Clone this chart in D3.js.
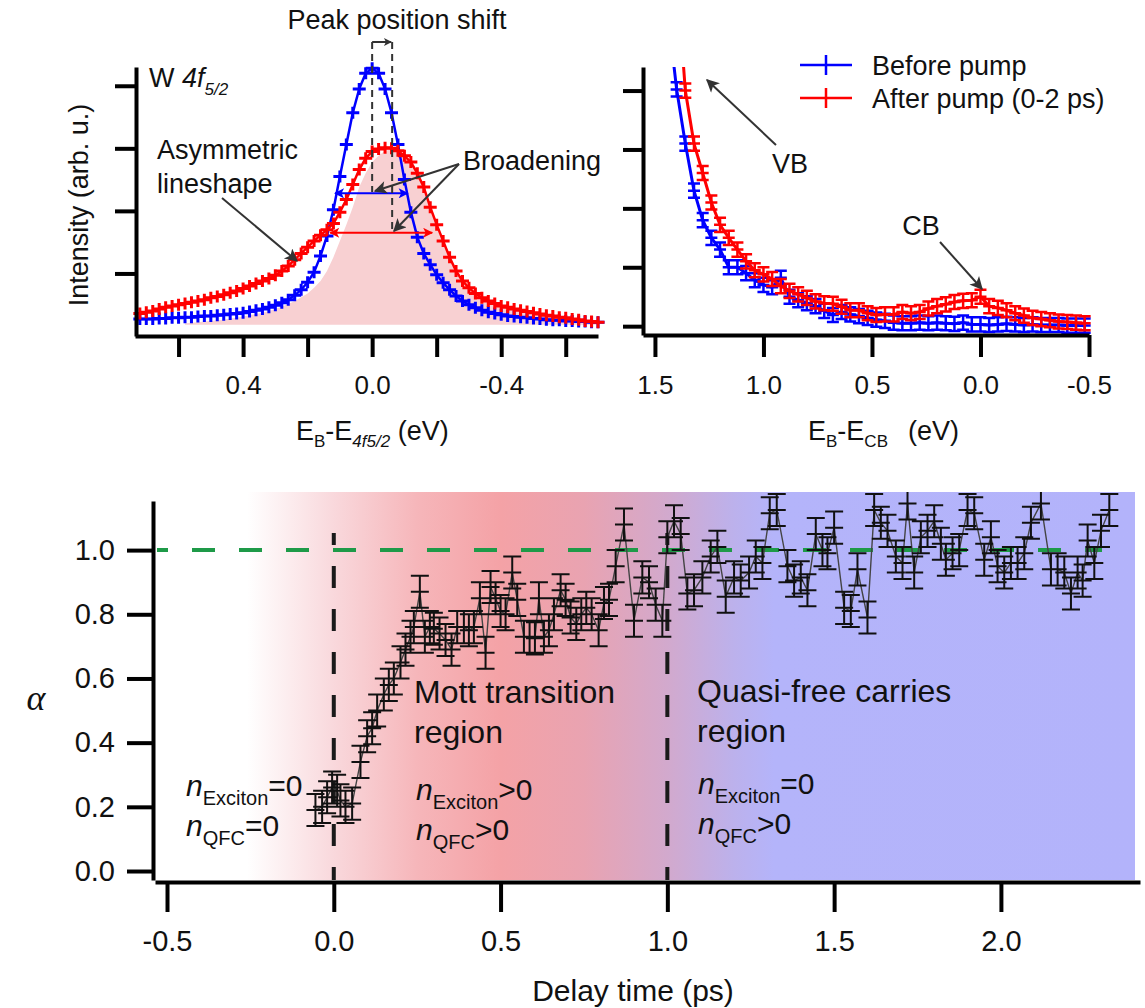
<!DOCTYPE html>
<html>
<head>
<meta charset="utf-8">
<script src="https://cdn.jsdelivr.net/npm/d3@7"></script>
<style>
body { margin: 0; background: #fff; }
text { font-family: "Liberation Sans", Arial, Helvetica, sans-serif; fill: #111; }
</style>
</head>
<body>
<script>
// ---- W 4f5/2 core level (top left) ----
var coreEnergy = [0.72,0.70,0.68,0.66,0.64,0.62,0.60,0.58,0.56,0.54,0.52,0.50,0.48,0.46,0.44,0.42,0.40,0.38,0.36,0.34,0.32,0.30,0.28,0.26,0.24,0.22,0.20,0.18,0.16,0.14,0.12,0.10,0.08,0.06,0.04,0.02,0.00,
  -0.02,-0.04,-0.06,-0.08,-0.10,-0.12,-0.14,-0.16,-0.18,-0.20,-0.22,-0.24,-0.26,-0.28,-0.30,-0.32,-0.34,-0.36,-0.38,-0.40,-0.42,-0.44,-0.46,-0.48,-0.50,-0.52,-0.54,-0.56,-0.58,-0.60,-0.62,-0.64,-0.66,-0.68,-0.70];
var coreBefore = [0.27,0.27,0.27,0.28,0.28,0.29,0.29,0.30,0.30,0.31,0.32,0.32,0.33,0.34,0.35,0.36,0.37,0.39,0.41,0.43,0.46,0.49,0.53,0.58,0.65,0.74,0.86,1.02,1.28,1.60,2.02,2.55,3.06,3.57,3.95,4.20,4.28,
  4.20,3.95,3.57,3.06,2.50,1.98,1.58,1.32,1.14,0.98,0.85,0.74,0.64,0.56,0.50,0.45,0.41,0.38,0.36,0.34,0.32,0.31,0.30,0.29,0.28,0.27,0.26,0.25,0.25,0.24,0.24,0.23,0.23,0.22,0.22];
var coreAfter = [0.36,0.38,0.40,0.43,0.46,0.48,0.50,0.52,0.54,0.56,0.58,0.61,0.63,0.66,0.69,0.72,0.76,0.80,0.84,0.88,0.92,0.97,1.04,1.12,1.22,1.32,1.42,1.52,1.61,1.70,1.80,1.98,2.18,2.42,2.66,2.84,2.95,
  2.99,3.01,3.00,2.96,2.88,2.78,2.60,2.38,2.06,1.78,1.52,1.26,1.04,0.88,0.77,0.68,0.61,0.56,0.52,0.48,0.46,0.43,0.41,0.39,0.37,0.35,0.33,0.32,0.30,0.29,0.27,0.26,0.24,0.23,0.22];
var coreFit = [null,null,null,null,null,null,null,0.20,0.21,0.22,0.23,0.24,0.25,0.26,0.28,0.29,0.31,0.33,0.35,0.37,0.40,0.43,0.47,0.51,0.56,0.62,0.68,0.77,0.88,1.04,1.26,1.52,1.78,2.06,2.38,2.60,2.78,
  2.88,2.96,2.98,2.94,2.86,2.76,2.58,2.36,2.04,1.76,1.50,1.24,1.02,0.86,0.75,0.66,0.59,0.54,0.50,0.46,0.44,0.41,0.39,0.37,0.35,0.33,0.31,0.30,0.28,0.27,0.25,0.24,0.23,0.22,0.21];
var fitBase = 0.18;
var coreTicks = [0.6,0.4,0.2,0,-0.2,-0.4,-0.6];
var coreLabels = [0.4,0,-0.4];

// ---- valence / conduction band (top right) ----
var vbEnergy = [1.44,1.40,1.36,1.32,1.28,1.24,1.20,1.16,1.12,1.08,1.04,1.00,0.96,0.92,0.88,0.84,0.80,0.76,0.72,0.68,0.64,0.60,0.56,0.52,0.48,0.44,0.40,0.36,0.32,0.28,0.24,0.20,0.16,0.12,0.08,0.04,0.00,
  -0.04,-0.08,-0.12,-0.16,-0.20,-0.24,-0.28,-0.32,-0.36,-0.40,-0.44,-0.48];
var vbBefore = [5.3,4.02,3.1,2.3,1.8,1.5,1.3,1.0,1.0,0.9,0.78,0.7,0.66,0.82,0.5,0.44,0.39,0.34,0.26,0.19,0.24,0.2,0.17,0.14,0.11,0.09,0.06,0.05,0.05,0.06,0.05,0.06,0.05,0.04,0.06,0.03,0.03,
  0.02,0.03,0.04,0.03,0.02,0.03,0.02,0.02,0.02,0.01,0.01,0.01];
var vbAfter = [8.0,6.0,4.0,3.1,2.6,2.1,1.72,1.5,1.3,1.1,0.95,0.88,0.8,0.68,0.6,0.54,0.48,0.42,0.39,0.38,0.33,0.27,0.27,0.22,0.19,0.2,0.2,0.24,0.22,0.24,0.3,0.34,0.37,0.41,0.43,0.44,0.5,
  0.34,0.31,0.27,0.22,0.18,0.14,0.12,0.10,0.08,0.07,0.06,0.05];
var vbErr = 0.12;
var vbTicks = [1.5,1.0,0.5,0.0,-0.5];

// ---- alpha vs delay (bottom) ----
var delay = [-0.055,-0.035,-0.02,-0.005,0.01,0.02,0.035,0.055,0.08,0.10,0.115,0.13,0.15,0.165,0.18,0.20,0.215,0.23,0.24,0.258,0.273,0.288,0.30,0.317,0.335,0.353,0.37,0.39,0.405,0.42,
  0.438,0.455,0.47,0.485,0.50,0.515,0.535,0.55,0.57,0.587,0.603,0.615,0.63,0.645,0.66,0.68,0.695,0.71,0.727,0.742,0.757,0.773,0.794,0.81,0.825,0.845,0.87,0.90,0.925,0.945,0.965,0.985,
  1.00,1.02,1.04,1.06,1.08,1.105,1.13,1.15,1.175,1.20,1.22,1.245,1.265,1.285,1.307,1.328,1.36,1.38,1.40,1.42,1.445,1.465,1.48,1.50,1.53,1.55,1.57,1.60,1.62,1.64,1.66,1.685,1.705,1.72,
  1.74,1.76,1.78,1.80,1.82,1.835,1.855,1.875,1.90,1.92,1.95,1.97,1.99,2.01,2.03,2.05,2.07,2.09,2.12,2.15,2.17,2.19,2.21,2.23,2.245,2.26,2.28,2.30,2.325];
var alpha = [0.19,0.20,0.23,0.26,0.25,0.22,0.20,0.21,0.34,0.42,0.445,0.50,0.55,0.58,0.60,0.65,0.69,0.73,0.76,0.87,0.73,0.76,0.755,0.74,0.72,0.69,0.76,0.76,0.75,0.76,
  0.85,0.68,0.885,0.85,0.81,0.80,0.93,0.845,0.73,0.73,0.725,0.85,0.73,0.75,0.80,0.875,0.845,0.79,0.77,0.80,0.82,0.80,0.75,0.835,0.845,0.95,1.08,0.78,0.915,0.90,0.83,0.78,
  1.04,1.09,1.05,0.865,0.875,0.915,0.98,1.01,0.855,0.915,0.905,0.93,0.98,0.96,1.115,1.125,0.95,0.905,0.915,0.875,1.05,1.0,0.99,1.07,0.82,0.81,0.94,0.79,1.125,1.085,1.06,0.98,0.96,1.145,
  0.93,1.04,1.06,1.09,1.02,0.97,0.99,1.0,1.125,1.115,0.97,1.04,0.95,0.93,0.96,0.96,0.99,1.085,1.145,0.94,0.94,0.93,0.865,0.93,0.905,1.03,0.96,1.06,1.125];
var alphaErr = 0.05;
var delayTicks = [-0.5,0.0,0.5,1.0,1.5,2.0];
var alphaTicks = [0.0,0.2,0.4,0.6,0.8,1.0];
var regionBounds = [0.0, 1.0];

var BLUE = "#0000ff", RED = "#ff0000", INK = "#333";
var fmt = function(d){ return d.toFixed(1); };

var svg = d3.select("body").append("svg").attr("width",1145).attr("height",1008);
var defs = svg.append("defs");

function arrowMarker(id, color, w, h) {
  defs.append("marker").attr("id",id).attr("viewBox","0 0 10 10").attr("refX",9).attr("refY",5)
    .attr("markerUnits","userSpaceOnUse").attr("markerWidth",w).attr("markerHeight",h)
    .attr("orient","auto-start-reverse")
    .append("path").attr("d","M0,0L10,5L0,10L2.5,5Z").attr("fill",color);
}
arrowMarker("ahK", INK, 17, 13);
arrowMarker("ahB", BLUE, 12, 10);
arrowMarker("ahR", RED, 12, 10);
arrowMarker("ahS", INK, 9, 8);

function styleAxis(g, w) {
  g.selectAll("path.domain").attr("stroke","#000").attr("stroke-width",w);
  g.selectAll(".tick line").attr("stroke","#000").attr("stroke-width",w);
  g.selectAll(".tick text").attr("fill","#111").attr("font-family",null);
}

// ================= top left =================
var xL = d3.scaleLinear().domain([0.735,-0.70]).range([135,598]);
var yL = d3.scaleLinear().domain([0,4.3]).range([336,67]);
var gL = svg.append("g");

var fitPts = coreEnergy.map(function(e,i){ return [e, coreFit[i]]; });
gL.append("path").datum(fitPts)
  .attr("d", d3.area().defined(function(d){return d[1]!=null;})
     .x(function(d){return xL(d[0]);}).y0(yL(fitBase)).y1(function(d){return yL(d[1]);}))
  .attr("fill","#f8d0d2");

function plusSeries(g, xs, ys, xsc, ysc, color) {
  var pts = xs.map(function(e,i){ return [xsc(e), ysc(ys[i])]; });
  g.append("path").datum(pts).attr("d", d3.line()).attr("fill","none").attr("stroke",color).attr("stroke-width",2.5);
  g.append("path")
    .attr("d", pts.map(function(p){ return "M"+(p[0]-6.5)+","+p[1]+"h13M"+p[0]+","+(p[1]-6)+"v12"; }).join(""))
    .attr("stroke",color).attr("stroke-width",3).attr("fill","none");
}
plusSeries(gL, coreEnergy, coreBefore, xL, yL, BLUE);
plusSeries(gL, coreEnergy, coreAfter, xL, yL, RED);

gL.append("g").attr("transform","translate(0,336)")
  .call(d3.axisBottom(xL).tickValues(coreTicks).tickSize(21).tickSizeOuter(0).tickPadding(19)
    .tickFormat(function(d){ return coreLabels.indexOf(d) >= 0 ? fmt(d) : ""; }))
  .call(function(g){ styleAxis(g,4); g.selectAll("text").attr("font-size",26); });
gL.append("g").attr("transform","translate(136,0)")
  .call(d3.axisLeft(yL).tickValues([1,2,3,4]).tickSize(21).tickSizeOuter(0).tickFormat(""))
  .call(function(g){ styleAxis(g,4); });

// broadening arrows
gL.append("line").attr("x1",xL(0.115)).attr("x2",xL(-0.11)).attr("y1",yL(2.28)).attr("y2",yL(2.28))
  .attr("stroke",BLUE).attr("stroke-width",2).attr("marker-start","url(#ahB)").attr("marker-end","url(#ahB)");
gL.append("line").attr("x1",xL(0.13)).attr("x2",xL(-0.186)).attr("y1",yL(1.65)).attr("y2",yL(1.65))
  .attr("stroke",RED).attr("stroke-width",2).attr("marker-start","url(#ahR)").attr("marker-end","url(#ahR)");

// peak position shift bracket
gL.append("line").attr("x1",xL(0)).attr("x2",xL(0)).attr("y1",42).attr("y2",192)
  .attr("stroke",INK).attr("stroke-width",2).attr("stroke-dasharray","7,5");
gL.append("line").attr("x1",xL(-0.062)).attr("x2",xL(-0.062)).attr("y1",42).attr("y2",232)
  .attr("stroke",INK).attr("stroke-width",2).attr("stroke-dasharray","7,5");
gL.append("line").attr("x1",xL(0)).attr("x2",xL(-0.062)-1).attr("y1",42).attr("y2",42)
  .attr("stroke",INK).attr("stroke-width",2).attr("marker-end","url(#ahS)");
svg.append("text").attr("x",397).attr("y",29).attr("text-anchor","middle").attr("font-size",27).text("Peak position shift");

var wl = svg.append("text").attr("x",149).attr("y",87).attr("font-size",27);
wl.append("tspan").text("W ");
wl.append("tspan").attr("font-style","italic").text("4f");
wl.append("tspan").attr("font-style","italic").attr("font-size",17).attr("dy",8).text("5/2");

svg.append("text").attr("x",157).attr("y",159).attr("font-size",27).text("Asymmetric");
svg.append("text").attr("x",157).attr("y",193).attr("font-size",27).text("lineshape");
svg.append("line").attr("x1",222).attr("y1",198).attr("x2",297).attr("y2",261)
  .attr("stroke",INK).attr("stroke-width",2).attr("marker-end","url(#ahK)");

svg.append("text").attr("x",463).attr("y",170).attr("font-size",27).text("Broadening");
svg.append("line").attr("x1",459).attr("y1",164).attr("x2",375).attr("y2",191)
  .attr("stroke",INK).attr("stroke-width",2).attr("marker-end","url(#ahK)");
svg.append("line").attr("x1",459).attr("y1",164).attr("x2",394).attr("y2",231)
  .attr("stroke",INK).attr("stroke-width",2).attr("marker-end","url(#ahK)");

svg.append("text").attr("transform","translate(88,205) rotate(-90)").attr("text-anchor","middle")
  .attr("font-size",27).text("Intensity (arb. u.)");
var xl1 = svg.append("text").attr("x",296).attr("y",440).attr("font-size",27);
xl1.append("tspan").text("E");
xl1.append("tspan").attr("font-size",17).attr("dy",7).text("B");
xl1.append("tspan").attr("dy",-7).text("-E");
xl1.append("tspan").attr("font-size",17).attr("dy",7).attr("font-style","italic").text("4f5/2");
xl1.append("tspan").attr("dy",-7).text(" (eV)");

// ================= top right =================
var xR = d3.scaleLinear().domain([1.555,-0.5]).range([643,1089]);
var yR = d3.scaleLinear().domain([-0.15,4.4]).range([335,67]);
defs.append("clipPath").attr("id","clipR").append("rect").attr("x",643).attr("y",67).attr("width",460).attr("height",280);
var gR = svg.append("g").attr("clip-path","url(#clipR)");

function errSeries(g, xs, ys, err, xsc, ysc, color, cw, sw, lw) {
  var pts = xs.map(function(e,i){ return [xsc(e), ysc(ys[i]), ysc(ys[i]+err), ysc(ys[i]-err)]; });
  g.append("path").datum(pts).attr("d", d3.line().x(function(p){return p[0];}).y(function(p){return p[1];}))
    .attr("fill","none").attr("stroke",color).attr("stroke-width",lw);
  g.append("path")
    .attr("d", pts.map(function(p){
      var h = cw/2;
      return "M"+p[0]+","+p[2]+"V"+p[3]+
             "M"+(p[0]-h)+","+p[2]+"h"+cw+
             "M"+(p[0]-h)+","+p[1]+"h"+cw+
             "M"+(p[0]-h)+","+p[3]+"h"+cw;
    }).join(""))
    .attr("stroke",color).attr("stroke-width",sw).attr("fill","none");
}
errSeries(gR, vbEnergy, vbBefore, vbErr, xR, yR, BLUE, 12, 2.5, 3);
errSeries(gR, vbEnergy, vbAfter, vbErr, xR, yR, RED, 12, 2.5, 3);

svg.append("g").attr("transform","translate(0,335)")
  .call(d3.axisBottom(xR).tickValues(vbTicks).tickSize(22).tickSizeOuter(0).tickPadding(19).tickFormat(fmt))
  .call(function(g){ styleAxis(g,4); g.selectAll("text").attr("font-size",26); });
svg.append("g").attr("transform","translate(643,0)")
  .call(d3.axisLeft(yR).tickValues([0,1,2,3,4]).tickSize(20).tickSizeOuter(0).tickFormat(""))
  .call(function(g){ styleAxis(g,4); });

// legend
[["Before pump", BLUE, 65], ["After pump (0-2 ps)", RED, 98]].forEach(function(l){
  svg.append("line").attr("x1",800).attr("x2",852).attr("y1",l[2]).attr("y2",l[2]).attr("stroke",l[1]).attr("stroke-width",2.5);
  svg.append("line").attr("x1",826).attr("x2",826).attr("y1",l[2]-10).attr("y2",l[2]+10).attr("stroke",l[1]).attr("stroke-width",2.5);
  svg.append("text").attr("x",872).attr("y",l[2]+10).attr("font-size",27).text(l[0]);
});

svg.append("text").attr("x",790).attr("y",173).attr("text-anchor","middle").attr("font-size",27).text("VB");
svg.append("line").attr("x1",776).attr("y1",145).attr("x2",707).attr("y2",80)
  .attr("stroke",INK).attr("stroke-width",2).attr("marker-end","url(#ahK)");
svg.append("text").attr("x",921).attr("y",235).attr("text-anchor","middle").attr("font-size",27).text("CB");
svg.append("line").attr("x1",940).attr("y1",242).attr("x2",982).attr("y2",289)
  .attr("stroke",INK).attr("stroke-width",2).attr("marker-end","url(#ahK)");

var xl2 = svg.append("text").attr("x",808).attr("y",440).attr("font-size",27);
xl2.append("tspan").text("E");
xl2.append("tspan").attr("font-size",17).attr("dy",7).text("B");
xl2.append("tspan").attr("dy",-7).text("-E");
xl2.append("tspan").attr("font-size",17).attr("dy",7).text("CB");
xl2.append("tspan").attr("dy",-7).attr("dx",20).text("(eV)");

// ================= bottom =================
var xB = d3.scaleLinear().domain([-0.536,2.417]).range([155,1140]);
var yB = d3.scaleLinear().domain([-0.028,1.153]).range([880,501]);

var grad = defs.append("linearGradient").attr("id","bgGrad").attr("gradientUnits","userSpaceOnUse")
  .attr("x1",155).attr("x2",1135).attr("y1",0).attr("y2",0);
[[-0.26,"#ffffff"],[0.0,"#f9d8dc"],[0.25,"#f6b6ba"],[0.5,"#f4a2a6"],[0.75,"#e9a3b1"],[1.0,"#d2a9cd"],[1.2,"#bcb1ec"],[1.32,"#b4b4fa"],[2.4,"#b3b3fb"]]
  .forEach(function(s){
    grad.append("stop").attr("offset", (xB(s[0])-155)/980).attr("stop-color", s[1]);
  });
svg.append("rect").attr("x",155).attr("y",492).attr("width",980).attr("height",388).attr("fill","url(#bgGrad)");

// reference alpha = 1
svg.append("line").attr("x1",157).attr("x2",1102).attr("y1",yB(1)).attr("y2",yB(1))
  .attr("stroke","#1e9a48").attr("stroke-width",4).attr("stroke-dasharray","23,24").attr("stroke-dashoffset",12);

// region boundaries
regionBounds.forEach(function(t){
  svg.append("line").attr("x1",xB(t)).attr("x2",xB(t)).attr("y1",533).attr("y2",880)
    .attr("stroke","#1a1a1a").attr("stroke-width",4).attr("stroke-dasharray","22,21").attr("stroke-dashoffset",10);
});

defs.append("clipPath").attr("id","clipB").append("rect").attr("x",155).attr("y",492).attr("width",985).attr("height",390);
var gB = svg.append("g").attr("clip-path","url(#clipB)");
errSeries(gB, delay, alpha, alphaErr, xB, yB, "#111", 18, 2, 1.4);
gB.select("path").attr("stroke","#444");

svg.append("g").attr("transform","translate(0,882)")
  .call(d3.axisBottom(xB).tickValues(delayTicks).tickSize(30).tickSizeOuter(0).tickPadding(18).tickFormat(fmt))
  .call(function(g){ styleAxis(g,4); g.selectAll("text").attr("font-size",29); });
svg.append("g").attr("transform","translate(153,0)")
  .call(d3.axisLeft(yB).tickValues(alphaTicks).tickSize(26).tickSizeOuter(0).tickPadding(12).tickFormat(fmt))
  .call(function(g){ styleAxis(g,4); g.selectAll("text").attr("font-size",29); });

svg.append("text").attr("x",633).attr("y",1001).attr("text-anchor","middle").attr("font-size",30).text("Delay time (ps)");
svg.append("text").attr("x",36).attr("y",710).attr("text-anchor","middle").attr("font-size",36)
  .attr("font-style","italic").style("font-family","'Liberation Serif', 'Times New Roman', serif").text("α");

function regionText(x, lines, y0) {
  lines.forEach(function(s,i){
    svg.append("text").attr("x",x).attr("y",y0+i*40).attr("font-size",32).attr("fill","#222").text(s);
  });
}
function densityText(x, y, sub, rel) {
  var t = svg.append("text").attr("x",x).attr("y",y).attr("font-size",30).attr("fill","#222");
  t.append("tspan").attr("font-style","italic").text("n");
  t.append("tspan").attr("font-size",20).attr("dy",9).text(sub);
  t.append("tspan").attr("dy",-9).text(rel);
}
regionText(414, ["Mott transition","region"], 703);
regionText(697, ["Quasi-free carries","region"], 702);
densityText(186, 796, "Exciton", "=0");
densityText(186, 836, "QFC", "=0");
densityText(416, 800, "Exciton", ">0");
densityText(416, 840, "QFC", ">0");
densityText(698, 794, "Exciton", "=0");
densityText(698, 834, "QFC", ">0");
</script>
</body>
</html>
